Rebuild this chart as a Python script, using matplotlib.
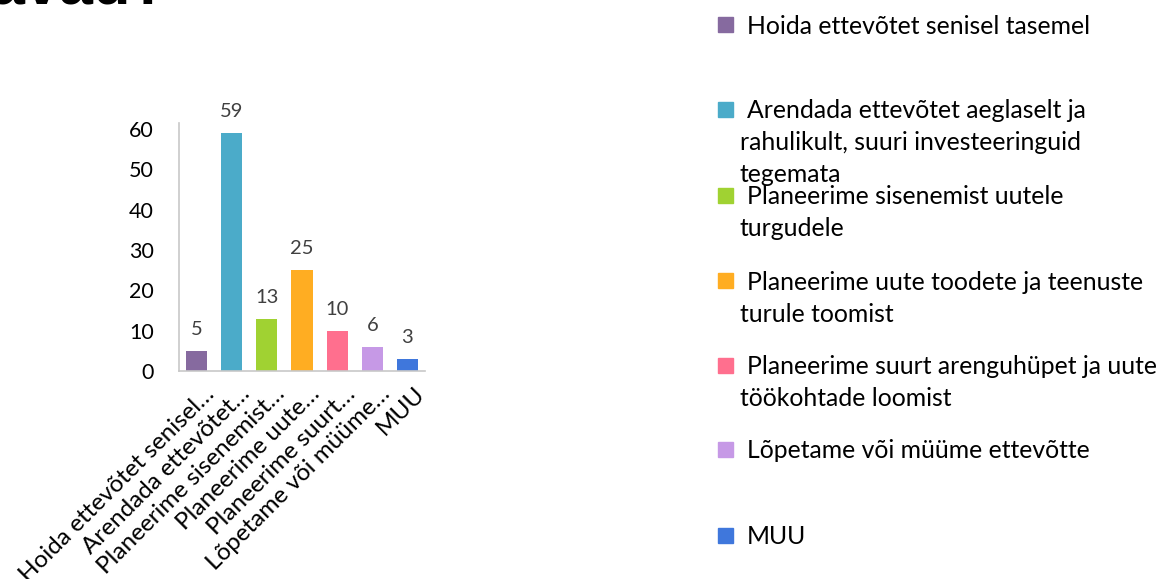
import matplotlib
matplotlib.use("Agg")
import matplotlib.pyplot as plt
import matplotlib.transforms as mtransforms

W, H = 1162, 579
DPI = 100

categories = [
    "Hoida ettevõtet senisel tasemel",
    "Arendada ettevõtet aeglaselt ja rahulikult, suuri investeeringuid tegemata",
    "Planeerime sisenemist uutele turgudele",
    "Planeerime uute toodete ja teenuste turule toomist",
    "Planeerime suurt arenguhüpet ja uute töökohtade loomist",
    "Lõpetame või müüme ettevõtte",
    "MUU",
]
values = [5, 59, 13, 25, 10, 6, 3]
tick_labels = [
    "Hoida ettevõtet senisel…",
    "Arendada ettevõtet…",
    "Planeerime sisenemist…",
    "Planeerime uute…",
    "Planeerime suurt…",
    "Lõpetame või müüme…",
    "MUU",
]
legend_lines = [
    ["Hoida ettevõtet senisel tasemel"],
    ["Arendada ettevõtet aeglaselt ja", "rahulikult, suuri investeeringuid", "tegemata"],
    ["Planeerime sisenemist uutele", "turgudele"],
    ["Planeerime uute toodete ja teenuste", "turule toomist"],
    ["Planeerime suurt arenguhüpet ja uute", "töökohtade loomist"],
    ["Lõpetame või müüme ettevõtte"],
    ["MUU"],
]
colors = ["#866a9f", "#4babc9", "#a0d232", "#ffad22", "#ff6f8e", "#c699e6", "#3f77dc"]
y_ticks = [0, 10, 20, 30, 40, 50, 60]
title_text = "kavad?"

FONT = "Lato"
plt.rcParams["font.family"] = [FONT, "DejaVu Sans"]

fig = plt.figure(figsize=(W / DPI, H / DPI), dpi=DPI)

def fx(px):
    return px / W

def fy(py):
    return 1 - py / H

# axes geometry (pixels)
ax_l, ax_r, ax_b, ax_t = 179, 425, 371, 123
ax = fig.add_axes([fx(ax_l), fy(ax_b), (ax_r - ax_l) / W, (ax_b - ax_t) / H])

x = list(range(len(values)))
ax.bar(x, values, width=0.6, color=colors, zorder=2)
ax.set_xlim(-0.5, len(values) - 0.5)
ax.set_ylim(0, 61.5)
ax.set_yticks(y_ticks)
ax.set_yticklabels([str(t) for t in y_ticks], fontsize=15.5, color="#000000")
ax.tick_params(axis="y", length=0, pad=18)
ax.tick_params(axis="x", length=0)
ax.set_xticks(x)
ax.set_xticklabels([])

for s in ["top", "right"]:
    ax.spines[s].set_visible(False)
for s in ["left", "bottom"]:
    ax.spines[s].set_color("#c8c8c8")
    ax.spines[s].set_linewidth(1.2)

for xi, v in zip(x, values):
    ax.annotate(str(v), (xi, v), xytext=(0, 11.5), textcoords="offset points",
                ha="center", va="baseline", fontsize=14.5, color="#404040")

# rotated category labels
trans = mtransforms.blended_transform_factory(ax.transData, ax.transAxes)
off = mtransforms.ScaledTranslation(19 / DPI, -24 / DPI, fig.dpi_scale_trans)
for xi, lab in zip(x, tick_labels):
    ax.text(xi, 0, lab, transform=trans + off,
            rotation=45, rotation_mode="anchor", ha="right", va="baseline",
            fontsize=17.5, color="#000000")

# legend drawn manually
leg_y = [24, 109, 195, 280, 365, 449, 535]
line_gap = 32
sq = 15
for lines, c, yc in zip(legend_lines, colors, leg_y):
    fig.patches.append(plt.Rectangle((fx(718), fy(yc + sq / 2)), sq / W, sq / H,
                                     transform=fig.transFigure, color=c, figure=fig))
    for k, ln in enumerate(lines):
        xpos = 747 if k == 0 else 740
        fig.text(fx(xpos), fy(yc + k * line_gap), ln, ha="left", va="center_baseline",
                 fontsize=17.8, color="#000000")

# cropped slide title
fig.text(fx(-42), fy(4), title_text, ha="left", va="baseline", fontsize=44,
         fontweight="bold", family=["Liberation Sans", "DejaVu Sans"], color="#000000")

fig.savefig("out.png", dpi=DPI, facecolor="white")
